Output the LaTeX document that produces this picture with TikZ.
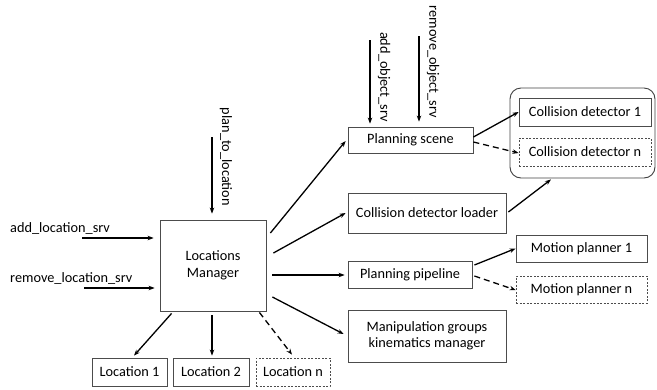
\documentclass[tikz,border=0pt]{standalone}
\usepackage{fontspec}
\setmainfont{Carlito}
\usetikzlibrary{arrows.meta}
\begin{document}
\begin{tikzpicture}[x=1pt,y=-1pt,
  every node/.style={font=\fontsize{14.3}{16.5}\selectfont, inner sep=0pt},
  box/.style={draw=black!70, line width=0.8pt, align=center},
  dbox/.style={box, dash pattern=on 2pt off 1.5pt},
  arr/.style={line width=1.3pt, -{Stealth[length=6pt,width=4.5pt]}},
  darr/.style={arr, dash pattern=on 6pt off 4pt}]
\useasboundingbox (0,0) rectangle (657,389);
% main boxes
\node[box, minimum width=106, minimum height=91] (lm) at (213,265.5) {Locations\\Manager};
\node[box, minimum width=75, minimum height=28] (l1) at (129.5,372) {Location 1};
\node[box, minimum width=76, minimum height=28] (l2) at (211,372) {Location 2};
\node[dbox, minimum width=74, minimum height=28] (ln) at (293,372) {Location n};
\node[box, minimum width=125, minimum height=26] (ps) at (410.5,140) {Planning scene};
\node[box, minimum width=158, minimum height=40] (cdl) at (427,213) {Collision detector loader};
\node[box, minimum width=124, minimum height=27] (pp) at (410,274.5) {Planning pipeline};
\node[box, minimum width=158, minimum height=52] (mg) at (427,336) {Manipulation groups\\kinematics manager};
\node[draw=black!75, line width=0.9pt, rounded corners=11pt, minimum width=145, minimum height=90] (cont) at (582.5,133) {};
\node[box, minimum width=132, minimum height=28] (cd1) at (585,112) {Collision detector 1};
\node[dbox, minimum width=132, minimum height=28] (cdn) at (585,152) {Collision detector n};
\node[box, minimum width=131, minimum height=27] (mp1) at (581.5,248.5) {Motion planner 1};
\node[dbox, minimum width=131, minimum height=27] (mpn) at (581.5,289.5) {Motion planner n};
% input labels
\node[anchor=west] (addl) at (10,228) {add\_location\_srv};
\node[anchor=west] (reml) at (10,278) {remove\_location\_srv};
\node[rotate=-90] (ptl) at (226,157) {plan\_to\_location};
\node[rotate=-90] (addo) at (384,77) {add\_object\_srv};
\node[rotate=-90] (remo) at (433,62) {remove\_object\_srv};
% input arrow start points
\coordinate (sa) at (82,238);
\coordinate (sr) at (84,288);
\coordinate (sp) at (212,137);
\coordinate (so) at (370,40);
\coordinate (sro) at (419,36);
\draw[arr] (sa) -- ([xshift=-6pt,yshift=27.5pt]lm.west);
\draw[arr] (sr) -- ([xshift=-5pt,yshift=-22.5pt]lm.west);
\draw[arr] (sp) -- ([xshift=-1pt,yshift=6pt]lm.north);
\draw[arr] (so) -- ([xshift=-40.5pt,yshift=3pt]ps.north);
\draw[arr] (sro) -- ([xshift=8.5pt,yshift=5pt]ps.north);
% outputs of Locations Manager
\draw[arr] ([xshift=12pt,yshift=-2pt]lm.south west) -- ([xshift=4.5pt,yshift=2pt]l1.north);
\draw[arr] ([xshift=-1pt,yshift=-4pt]lm.south) -- ([xshift=1pt,yshift=2pt]l2.north);
\draw[darr] ([xshift=-7pt,yshift=-1pt]lm.south east) -- ([xshift=-1pt,yshift=3pt]ln.north);
\draw[arr] ([xshift=4pt,yshift=32.5pt]lm.east) -- ([xshift=-2pt,yshift=-1pt]ps.west);
\draw[arr] ([xshift=7pt,yshift=12.5pt]lm.east) -- ([xshift=-2pt]cdl.west);
\draw[arr] ([xshift=6pt,yshift=-9.5pt]lm.east) -- ([xshift=-3pt,yshift=-0.5pt]pp.west);
\draw[arr] ([xshift=6pt,yshift=-31.5pt]lm.east) -- ([xshift=-4pt,yshift=2pt]mg.west);
% planning scene outputs
\draw[arr] ([yshift=3pt]ps.east) -- (cd1.west);
\draw[darr] ([yshift=-2pt]ps.east) -- ([yshift=-1pt]cdn.west);
% loader to container
\draw[arr] ([xshift=2pt,yshift=1pt]cdl.east) -- ([xshift=-31.5pt,yshift=-1pt]cont.south);
% pipeline outputs
\draw[arr] ([xshift=2pt,yshift=9.5pt]pp.east) -- (mp1.west);
\draw[darr] ([xshift=2pt,yshift=-1.5pt]pp.east) -- ([yshift=-0.5pt]mpn.west);
\end{tikzpicture}
\end{document}
